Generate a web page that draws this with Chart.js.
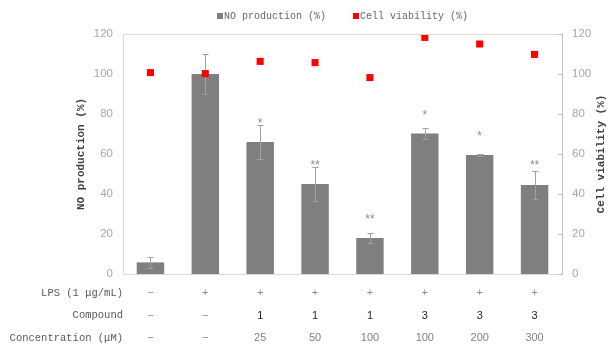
<!DOCTYPE html>
<html>
<head>
<meta charset="utf-8">
<script src="https://cdn.jsdelivr.net/npm/chart.js@4.4.1/dist/chart.umd.min.js"></script>
<style>
  html, body { margin: 0; padding: 0; background: #fff; }
  #wrap { width: 608px; height: 349px; }
</style>
</head>
<body>
<div id="wrap"><canvas id="comboChart" width="608" height="349"></canvas></div>
<script>
// groups on the x axis
var groups = ["ctrl", "LPS", "C1-25", "C1-50", "C1-100", "C3-100", "C3-200", "C3-300"];

// NO production (%) bars, with SD
var noProduction = [5.8, 100, 66, 45, 18, 70.3, 59.5, 44.5];
var noError = [2.6, 10, 8.3, 8.5, 2.5, 2.7, 0.3, 7.2];

// cell viability (%) squares, right axis
var cellViability = [100.7, 100.2, 106.3, 105.7, 98.2, 118.3, 115, 109.8];

// significance marks and where they sit (in % units)
var sigMarks = ["", "", "*", "**", "**", "*", "*", "**"];
var sigLevels = [null, null, 76, 55, 28, 80, 69.5, 55];

// table under the chart
var rowLabels = ["LPS (1 \u03bcg/mL)", "Compound", "Concentration (\u03bcM)"];
var lpsRow = ["\u2212", "+", "+", "+", "+", "+", "+", "+"];
var compoundRow = ["\u2212", "\u2212", "1", "1", "1", "3", "3", "3"];
var concRow = ["\u2212", "\u2212", "25", "50", "100", "100", "200", "300"];

var yTicks = [0, 20, 40, 60, 80, 100, 120];

var monoFont = "'Liberation Mono', 'DejaVu Sans Mono', monospace";
var sansFont = "'Liberation Sans', Arial, sans-serif";

var errorBars = {
  id: "errorBars",
  afterDatasetDraw: function (chart, args) {
    if (args.index !== 0) return;
    var ctx = chart.ctx, y = chart.scales.y;
    var meta = args.meta;
    ctx.save();
    ctx.strokeStyle = "#a0a0a0";
    ctx.lineWidth = 1;
    meta.data.forEach(function (bar, i) {
      var x = Math.round(bar.x) + 0.5;
      var top = Math.round(y.getPixelForValue(noProduction[i] + noError[i])) + 0.5;
      var bot = Math.round(y.getPixelForValue(noProduction[i] - noError[i])) + 0.5;
      ctx.beginPath();
      ctx.moveTo(x, top); ctx.lineTo(x, bot);
      ctx.moveTo(x - 3, top); ctx.lineTo(x + 3, top);
      ctx.moveTo(x - 3, bot); ctx.lineTo(x + 3, bot);
      ctx.stroke();
    });
    // stars
    ctx.fillStyle = "#8c8c8c";
    ctx.font = "12px " + sansFont;
    ctx.textAlign = "center";
    ctx.textBaseline = "alphabetic";
    meta.data.forEach(function (bar, i) {
      if (!sigMarks[i]) return;
      ctx.fillText(sigMarks[i], bar.x, y.getPixelForValue(sigLevels[i]) + 5);
    });
    ctx.restore();
  }
};

var frame = {
  id: "frame",
  afterDraw: function (chart) {
    var ctx = chart.ctx, a = chart.chartArea, y1 = chart.scales.y1;
    ctx.save();
    ctx.strokeStyle = "#d9d9d9";
    ctx.lineWidth = 1;
    ctx.beginPath();
    ctx.moveTo(a.left, a.top + 0.5);
    ctx.lineTo(a.right, a.top + 0.5);
    ctx.stroke();
    ctx.strokeStyle = "#bfbfbf";
    ctx.beginPath();
    yTicks.forEach(function (v) {
      var p = Math.round(y1.getPixelForValue(v)) + 0.5;
      ctx.moveTo(a.right - 4, p);
      ctx.lineTo(a.right, p);
    });
    ctx.stroke();

    // right axis title, reading bottom to top
    ctx.fillStyle = "#404040";
    ctx.font = "bold 11px " + monoFont;
    ctx.textAlign = "center";
    ctx.textBaseline = "middle";
    ctx.translate(chart.width - 7, (a.top + a.bottom) / 2);
    ctx.rotate(-Math.PI / 2);
    ctx.fillText("Cell viability (%)", 0, 0);
    ctx.restore();
  }
};

var legendBox = {
  id: "legendBox",
  afterDraw: function (chart) {
    var ctx = chart.ctx, a = chart.chartArea;
    var box = 6, gap = 1, spacing = 27;
    ctx.save();
    ctx.font = "10px " + monoFont;
    ctx.textBaseline = "middle";
    ctx.textAlign = "left";
    var items = chart.data.datasets.map(function (ds) {
      return { text: ds.label, color: ds.pointBackgroundColor || ds.backgroundColor, w: ctx.measureText(ds.label).width };
    });
    var total = 0;
    items.forEach(function (it, i) { total += box + gap + it.w + (i ? spacing : 0); });
    var x = (a.left + a.right) / 2 - total / 2;
    var y = 16;
    items.forEach(function (it) {
      ctx.fillStyle = it.color;
      ctx.fillRect(Math.round(x), y - box / 2, box, box);
      ctx.fillStyle = "#666666";
      ctx.fillText(it.text, x + box + gap, y);
      x += box + gap + it.w + spacing;
    });
    ctx.restore();
  }
};

var table = {
  id: "table",
  afterDraw: function (chart) {
    var ctx = chart.ctx, a = chart.chartArea, xs = chart.scales.x;
    var rows = [lpsRow, compoundRow, concRow];
    var colors = ["#8c8c8c", "#262626", "#7f7f7f"];
    ctx.save();
    ctx.textBaseline = "middle";
    rows.forEach(function (row, r) {
      var yy = a.bottom + 19 + r * 22.5;
      ctx.font = "10.5px " + monoFont;
      ctx.fillStyle = "#595959";
      ctx.textAlign = "right";
      ctx.fillText(rowLabels[r], a.left, yy);
      ctx.font = "11px " + sansFont;
      ctx.textAlign = "center";
      row.forEach(function (t, i) {
        ctx.fillStyle = t === "\u2212" ? "#8c8c8c" : colors[r];
        ctx.fillText(t, xs.getPixelForValue(i), yy);
      });
    });
    ctx.restore();
  }
};

var ctx = document.getElementById("comboChart").getContext("2d");
var myChart = new Chart(ctx, {
  data: {
    labels: groups,
    datasets: [
      {
        type: "bar",
        label: "NO production (%)",
        data: noProduction,
        backgroundColor: "#7f7f7f",
        barPercentage: 0.5,
        categoryPercentage: 1,
        yAxisID: "y",
        order: 2,
      },
      {
        type: "line",
        label: "Cell viability (%)",
        data: cellViability,
        showLine: false,
        pointStyle: "rect",
        pointRadius: 5,
        pointBorderWidth: 0,
        pointBackgroundColor: "#ff0000",
        backgroundColor: "#ff0000",
        borderColor: "#ff0000",
        yAxisID: "y1",
        order: 1,
      },
    ],
  },
  options: {
    responsive: false,
    animation: false,
    layout: { padding: { top: 34, left: 0, right: 0, bottom: 0 } },
    plugins: {
      legend: { display: false },
      tooltip: { enabled: false },
    },
    scales: {
      x: {
        grid: { display: false },
        border: { color: "#d9d9d9" },
        ticks: { display: false },
        afterFit: function (s) { s.height = 75; },
      },
      y: {
        position: "left",
        min: 0,
        max: 120,
        afterBuildTicks: function (s) { s.ticks = yTicks.map(function (v) { return { value: v }; }); },
        ticks: { padding: 10, color: "#a6a6a6", font: { family: sansFont, size: 11.5 } },
        grid: { display: false, drawTicks: false },
        border: { color: "#d9d9d9" },
        title: {
          display: true,
          text: "NO production (%)",
          color: "#404040",
          font: { family: monoFont, size: 11, weight: "bold" },
          padding: { top: 75, bottom: 0 },
        },
        afterFit: function (s) { s.width = 123; },
      },
      y1: {
        position: "right",
        min: 0,
        max: 120,
        afterBuildTicks: function (s) { s.ticks = yTicks.map(function (v) { return { value: v }; }); },
        ticks: { padding: 10, color: "#a6a6a6", font: { family: sansFont, size: 11.5 } },
        grid: { display: false, drawTicks: false },
        border: { color: "#bfbfbf" },
        afterFit: function (s) { s.width = 46; },
      },
    },
  },
  plugins: [errorBars, frame, legendBox, table],
});
</script>
</body>
</html>
